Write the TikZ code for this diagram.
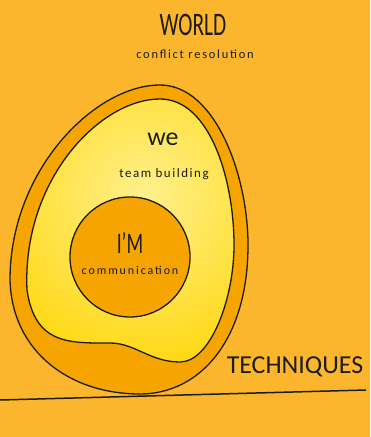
\documentclass[tikz,border=0pt]{standalone}
\usepackage{fontspec}
\setmainfont{Carlito}
\definecolor{bg}{HTML}{FBB62D}
\definecolor{eggor}{HTML}{F6A500}
\definecolor{circ}{HTML}{F5A400}
\definecolor{yl1}{HTML}{FFF08C}
\definecolor{yl2}{HTML}{FFD400}
\definecolor{ink}{HTML}{1C1C1C}
\begin{document}
\begin{tikzpicture}[x=1bp,y=-1bp,
  hand/.style={text=ink, inner sep=0pt},
  outline/.style={draw=ink, line width=1.3bp}]
\useasboundingbox (0,0) rectangle (370,437);
\fill[bg] (0,0) rectangle (370,437);
% outer egg
\draw[outline, fill=eggor] (160,85)
  .. controls (215,85) and (248,175) .. (248,245)
  .. controls (248,340) and (200,394) .. (140,394)
  .. controls (70,394) and (12,352) .. (10,280)
  .. controls (10,170) and (95,85) .. (160,85) -- cycle;
% yolk
\def\yolkpath{(160,99)
  .. controls (210,99) and (234,180) .. (234,245)
  .. controls (234,300) and (210,362) .. (180,362)
  .. controls (150,362) and (135,343) .. (110,343)
  .. controls (70,343) and (35,345) .. (27,290)
  .. controls (22,180) and (100,99) .. (160,99) -- cycle}
\begin{scope}
\clip \yolkpath;
\shade[inner color=yl1, outer color=yl2] (145,195) circle (200bp);
\end{scope}
\draw[outline] \yolkpath;
% inner circle
\draw[outline, fill=circ] (130,257) circle (60bp);
% ground
\coordinate (g1) at (0,400);
\coordinate (g2) at (366,390);
\draw[ink, line width=1.5bp] (g1) -- (g2);
% texts
\node[hand] (world) at (193,25) {\scalebox{0.65}[1]{\fontsize{33}{33}\selectfont WORLD}};
\node[hand] (conf) at (195,54) {\fontsize{12.5}{13}\selectfont\addfontfeature{LetterSpace=14}conflict resolution};
\node[hand] (we) at (163,139) {\fontsize{26}{26}\selectfont we};
\node[hand] (team) at (164,174) {\fontsize{13}{13}\selectfont\addfontfeature{LetterSpace=12}team building};
\node[hand] (im) at (130,243) {\scalebox{0.65}[1]{\fontsize{30}{30}\selectfont I'M}};
\node[hand] (comm) at (130,270) {\fontsize{12}{12}\selectfont\addfontfeature{LetterSpace=16}communication};
\node[hand] (tech) at (295,367) {\fontsize{26}{26}\selectfont TECHNIQUES};
\end{tikzpicture}
\end{document}
